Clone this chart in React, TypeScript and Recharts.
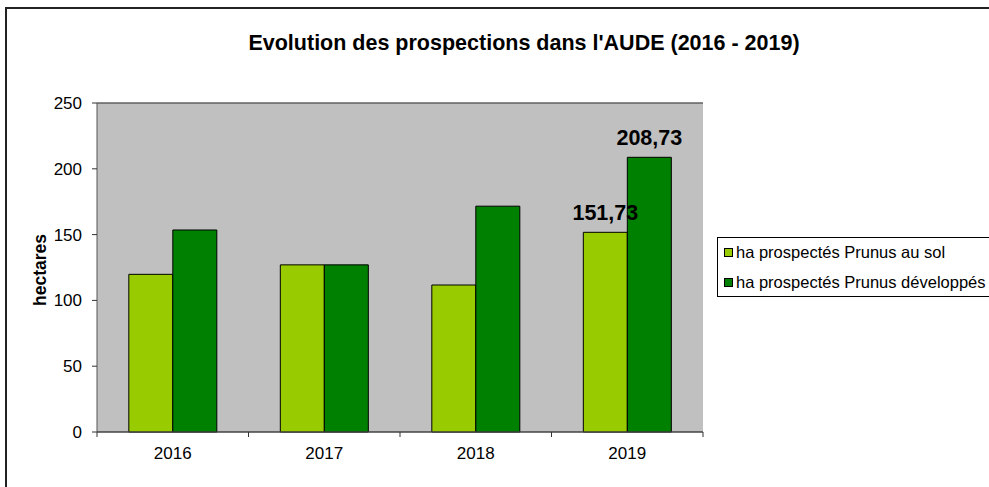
import React from 'react';
import { BarChart, Bar, XAxis, YAxis, CartesianGrid, LabelList, ReferenceLine } from 'recharts';

const years = ['2016', '2017', '2018', '2019'];
const prunusAuSol = [119.8, 127.0, 111.7, 151.73];
const prunusDeveloppes = [153.5, 127.0, 171.6, 208.73];
const labelsAuSol = ['', '', '', '151,73'];
const labelsDeveloppes = ['', '', '', '208,73'];
const yTicks = [0, 50, 100, 150, 200, 250];
const seriesNames = ['ha prospectés Prunus au sol', 'ha prospectés Prunus développés'];
const seriesColors = ['#99CC00', '#008000'];

const data = years.map((y, i) => ({
  year: y,
  sol: prunusAuSol[i],
  dev: prunusDeveloppes[i],
  solLabel: labelsAuSol[i],
  devLabel: labelsDeveloppes[i],
}));

const FONT = 'Arial, "Liberation Sans", sans-serif';

const XTick = (props: any) => {
  const { x, y, payload, index, width } = props;
  const band = width / years.length;
  const half = band / 2;
  return (
    <g>
      <line x1={x - half} y1={y} x2={x - half} y2={y + 5} stroke="#333" strokeWidth={1} />
      {index === years.length - 1 && (
        <line x1={x + half} y1={y} x2={x + half} y2={y + 5} stroke="#333" strokeWidth={1} />
      )}
      <text x={x} y={y + 27} textAnchor="middle" fontFamily={FONT} fontSize={17} fill="#000">
        {payload.value}
      </text>
    </g>
  );
};

const LegendBox = () => (
  <div
    style={{
      position: 'absolute',
      left: 717,
      top: 237,
      width: 300,
      height: 60,
      border: '1px solid #000',
      background: '#fff',
      boxSizing: 'border-box',
      fontFamily: FONT,
      fontSize: 16.5,
      color: '#000',
      paddingLeft: 6,
      paddingTop: 4,
    }}
  >
    {seriesNames.map((n, i) => (
      <div key={n} style={{ display: 'flex', alignItems: 'center', height: 20, marginBottom: i === 0 ? 10 : 0, whiteSpace: 'nowrap' }}>
        <span
          style={{
            display: 'inline-block',
            width: 7,
            height: 7,
            border: '1px solid #000',
            background: seriesColors[i],
            marginRight: 3,
          }}
        />
        <span>{n}</span>
      </div>
    ))}
  </div>
);

const YLabel = () => (
  <text
    x={40}
    y={270}
    transform="rotate(-90 40 270)"
    textAnchor="middle"
    dominantBaseline="central"
    fontFamily={FONT}
    fontSize={17.5}
    fontWeight="bold"
    fill="#000"
  >
    hectares
  </text>
);

export default function App() {
  return (
    <div style={{ position: 'absolute', left: 0, top: 0, width: 989, height: 487, overflow: 'hidden', background: '#fff' }}>
      <div
        style={{
          position: 'absolute',
          left: 5,
          top: 7,
          width: 1100,
          height: 600,
          border: '2px solid #222',
          boxSizing: 'border-box',
        }}
      />
      <div
        style={{
          position: 'absolute',
          left: 0,
          top: 30,
          width: 1048,
          textAlign: 'center',
          fontFamily: FONT,
          fontWeight: 'bold',
          fontSize: 21.5,
          lineHeight: '26px',
          color: '#000',
        }}
      >
        Evolution des prospections dans l'AUDE (2016 - 2019)
      </div>
      <div style={{ position: 'absolute', left: 0, top: 0 }}>
        <BarChart
          width={989}
          height={487}
          data={data}
          margin={{ top: 103, right: 286, bottom: 25, left: 0 }}
          barCategoryGap="21%"
          barGap={0}
        >
          <CartesianGrid fill="#C0C0C0" stroke="#000" strokeOpacity={0.85} vertical={false} />
          <ReferenceLine y={250} yAxisId="left" stroke="#808080" />
          <XAxis
            dataKey="year"
            height={30}
            tickSize={0}
            tickMargin={0}
            tickLine={false}
            axisLine={{ stroke: '#555' }}
            tick={<XTick />}
            interval={0}
          />
          <YAxis
            yAxisId="left"
            width={97}
            domain={[0, 250]}
            ticks={yTicks}
            tickSize={5}
            tickMargin={10}
            axisLine={{ stroke: '#555' }}
            tickLine={{ stroke: '#333' }}
            tick={{ fontFamily: FONT, fontSize: 17, fill: '#000' }}
            label={<YLabel />}
          />
          <YAxis
            yAxisId="right"
            orientation="right"
            width={0}
            domain={[0, 250]}
            tick={false}
            tickLine={false}
            axisLine={{ stroke: '#808080' }}
          />
          <Bar yAxisId="left" dataKey="sol" name={seriesNames[0]} fill={seriesColors[0]} stroke="#000" strokeWidth={1} isAnimationActive={false}>
            <LabelList dataKey="solLabel" position="top" offset={12} style={{ fontFamily: FONT, fontSize: 21.5, fontWeight: 'bold', fill: '#000' }} />
          </Bar>
          <Bar yAxisId="left" dataKey="dev" name={seriesNames[1]} fill={seriesColors[1]} stroke="#000" strokeWidth={1} isAnimationActive={false}>
            <LabelList dataKey="devLabel" position="top" offset={12} style={{ fontFamily: FONT, fontSize: 21.5, fontWeight: 'bold', fill: '#000' }} />
          </Bar>
        </BarChart>
      </div>
      <LegendBox />
    </div>
  );
}
